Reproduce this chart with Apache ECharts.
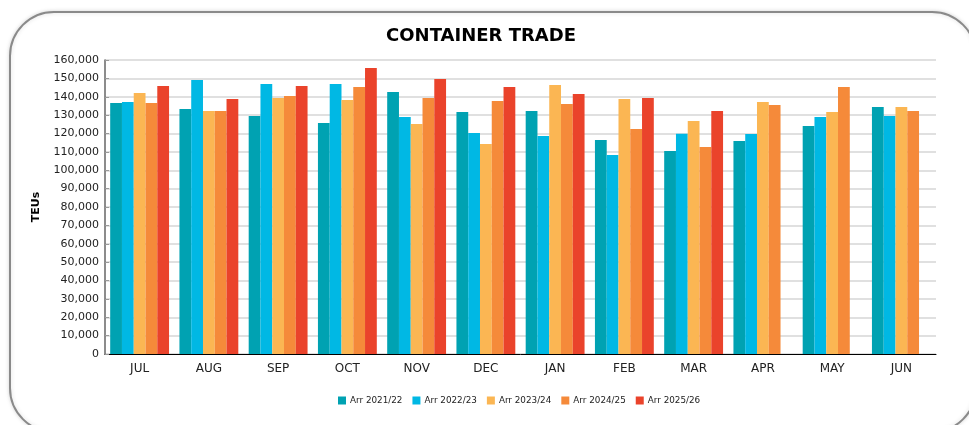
<!DOCTYPE html>
<html>
<head>
<meta charset="utf-8">
<script src="https://cdn.jsdelivr.net/npm/echarts@6/dist/echarts.min.js"></script>
<style>
  html, body { margin: 0; padding: 0; background: #fff; }
  #main { width: 969px; height: 425px; }
</style>
</head>
<body>
<div id="main"></div>
<script>
// months of the trade year
const months = ['JUL', 'AUG', 'SEP', 'OCT', 'NOV', 'DEC', 'JAN', 'FEB', 'MAR', 'APR', 'MAY', 'JUN'];
const seriesNames = ['Arr 2021/22', 'Arr 2022/23', 'Arr 2023/24', 'Arr 2024/25', 'Arr 2025/26'];
const colors = ['#00A2B2', '#00B8E4', '#FBB653', '#F58A3A', '#EA432B'];

// TEUs
const arr2122 = [136600, 133300, 129500, 125700, 142600, 131700, 132200, 116500, 110500, 115900, 124100, 134400];
const arr2223 = [137100, 149100, 147000, 147000, 129000, 120300, 118700, 108300, 119800, 119700, 129000, 129500];
const arr2324 = [142000, 132200, 139300, 138200, 125200, 114300, 146400, 138800, 126800, 137100, 131700, 134400];
const arr2425 = [136600, 132200, 140400, 145300, 139300, 137700, 136100, 122400, 112600, 135500, 145300, 132200];
const arr2526 = [145900, 138800, 145900, 155600, 149700, 145300, 141500, 139300, 132200, null, null, null];

const allData = [arr2122, arr2223, arr2324, arr2425, arr2526];

const chart = echarts.init(document.getElementById('main'), null, { renderer: 'canvas' });

const font = '"DejaVu Sans", Verdana, sans-serif';

const option = {
  animation: false,
  textStyle: { fontFamily: font },
  graphic: [{
    type: 'rect',
    shape: { x: 10, y: 12, width: 966, height: 420, r: 44 },
    style: {
      fill: '#fff',
      stroke: '#8a8a8a',
      lineWidth: 2,
      shadowColor: 'rgba(0,0,0,0.15)',
      shadowBlur: 4
    },
    z: -10
  }],
  title: {
    text: 'CONTAINER TRADE',
    left: 476,
    textAlign: 'center',
    top: 22,
    textStyle: { fontFamily: font, fontSize: 18, fontWeight: 'bold', color: '#000' }
  },
  legend: {
    top: 391,
    left: 333,
    itemWidth: 8,
    itemHeight: 8,
    itemGap: 10,
    icon: 'rect',
    textStyle: { fontFamily: font, fontSize: 8.8, color: '#222', padding: [0, 0, 0, -1] },
    data: seriesNames
  },
  grid: { left: 105, right: 33, top: 60, bottom: 71 },
  xAxis: {
    type: 'category',
    data: months,
    axisLine: { lineStyle: { color: '#000', width: 1 } },
    axisTick: { show: false },
    axisLabel: { fontFamily: font, fontSize: 12, color: '#222', margin: 9 }
  },
  yAxis: {
    type: 'value',
    min: 0,
    max: 160000,
    interval: 10000,
    name: 'TEUs',
    nameLocation: 'middle',
    nameRotate: 90,
    nameGap: 63,
    nameTextStyle: { fontFamily: font, fontSize: 11, fontWeight: 'bold', color: '#000' },
    axisLine: { show: true, lineStyle: { color: '#666', width: 1.5 } },
    axisTick: { show: true, inside: true, length: 4, lineStyle: { color: '#999' } },
    axisLabel: {
      fontFamily: font, fontSize: 11, color: '#222', margin: 6,
      formatter: v => v.toLocaleString('en-US')
    },
    splitLine: { lineStyle: { color: '#d6d6d6', width: 1.5 } }
  },
  series: allData.map((d, i) => ({
    name: seriesNames[i],
    type: 'bar',
    data: d,
    barGap: '0%',
    barCategoryGap: '15%',
    itemStyle: { color: colors[i] }
  }))
};

chart.setOption(option);
</script>
</body>
</html>
